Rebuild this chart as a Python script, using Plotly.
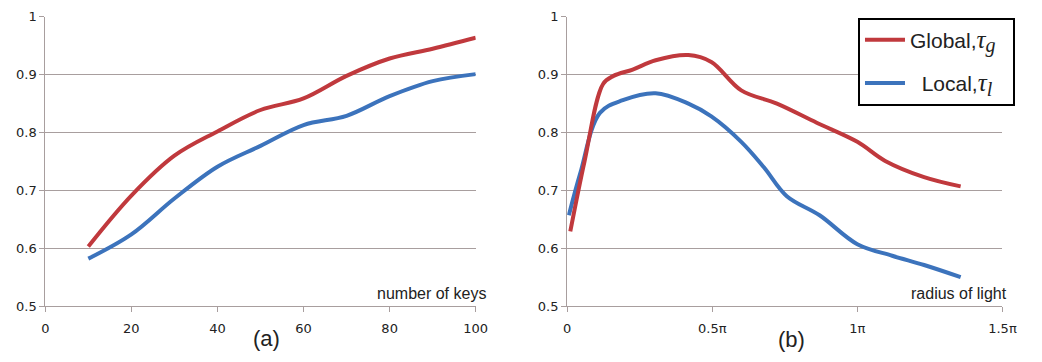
import plotly.graph_objects as go

# Panel (a): number of keys
keys = [10, 20, 30, 40, 50, 60, 70, 80, 90, 100]
keys_global = [0.603, 0.691, 0.760, 0.802, 0.839, 0.859, 0.898, 0.928, 0.945, 0.964]
keys_local = [0.582, 0.624, 0.686, 0.741, 0.777, 0.813, 0.829, 0.863, 0.889, 0.901]

# Panel (b): radius of light (in units of pi)
radius_g = [0.011, 0.06, 0.124, 0.16, 0.226, 0.305, 0.418, 0.497, 0.6, 0.723, 0.86, 1.0, 1.096, 1.23, 1.356]
light_global = [0.629, 0.75, 0.884, 0.898, 0.909, 0.925, 0.934, 0.922, 0.873, 0.850, 0.817, 0.784, 0.751, 0.723, 0.707]
radius_l = [0.006, 0.045, 0.113, 0.192, 0.305, 0.418, 0.497, 0.6, 0.678, 0.757, 0.87, 1.0, 1.12, 1.23, 1.356]
light_local = [0.657, 0.729, 0.834, 0.856, 0.868, 0.850, 0.828, 0.784, 0.740, 0.690, 0.657, 0.607, 0.587, 0.571, 0.550]

y_ticks = [0.5, 0.6, 0.7, 0.8, 0.9, 1.0]
y_ticklabels = ["0.5", "0.6", "0.7", "0.8", "0.9", "1"]
xa_ticks = [0, 20, 40, 60, 80, 100]
xb_ticks = [0, 0.5, 1.0, 1.5]
xb_ticklabels = ["0", "0.5π", "1π", "1.5π"]

RED = "#C0393D"
BLUE = "#3C73BC"
GRID = "#A89E9E"
W, H = 1042, 362

fig = go.Figure()

tau = "<span style=\"font-family:'Liberation Serif';font-size:25px\"><i>τ</i></span>"
sub = "<sub><span style=\"font-family:'Liberation Serif';font-size:20px\"><i>%s</i></span></sub>"
name_g = "Global," + tau + sub % "g" + "&nbsp;&nbsp;"
name_l = "&nbsp;&nbsp;Local," + tau + sub % "l" + "&nbsp;&nbsp;"

line_style = dict(width=4, shape="spline", smoothing=1)
fig.add_trace(go.Scatter(x=keys, y=keys_local, mode="lines", line=dict(line_style, color=BLUE),
                         xaxis="x", yaxis="y", showlegend=False))
fig.add_trace(go.Scatter(x=keys, y=keys_global, mode="lines", line=dict(line_style, color=RED),
                         xaxis="x", yaxis="y", showlegend=False))
fig.add_trace(go.Scatter(x=radius_l, y=light_local, mode="lines", line=dict(line_style, color=BLUE),
                         xaxis="x2", yaxis="y2", name=name_l, legendrank=2, legendgroup="l"))
fig.add_trace(go.Scatter(x=radius_g, y=light_global, mode="lines", line=dict(line_style, color=RED),
                         xaxis="x2", yaxis="y2", name=name_g, legendrank=1, legendgroup="g"))

ydom = [1 - 312 / H, 1 - 10 / H]
tickfont = dict(family="DejaVu Sans", size=13, color="#222222")
common_y = dict(range=[0.5, 1.0005], tickvals=y_ticks, ticktext=y_ticklabels, showgrid=True, gridcolor=GRID, gridwidth=1,
                showline=True, linecolor=GRID, linewidth=1, ticks="outside", ticklen=5, tickcolor=GRID,
                tickfont=tickfont, zeroline=False, domain=ydom, fixedrange=True)
common_x = dict(showgrid=False, showline=True, linecolor=GRID, linewidth=1, ticks="outside", ticklen=5, tickcolor=GRID,
                tickfont=tickfont, zeroline=False, ticklabelstandoff=5)

fig.update_layout(
    width=W, height=H,
    margin=dict(l=0, r=0, t=0, b=0),
    paper_bgcolor="white", plot_bgcolor="white",
    xaxis=dict(common_x, domain=[42 / W, 480 / W], range=[0, 100], tickvals=xa_ticks, anchor="y"),
    yaxis=dict(common_y, anchor="x"),
    xaxis2=dict(common_x, domain=[573 / W, 1016 / W], range=[0, 1.5], tickvals=xb_ticks, ticktext=xb_ticklabels, anchor="y2"),
    yaxis2=dict(common_y, anchor="x2"),
    legend=dict(x=869 / W, y=1 - 11 / H, xanchor="left", yanchor="top", bgcolor="white",
                bordercolor="black", borderwidth=2, font=dict(family="Liberation Sans", size=21, color="#222222"),
                itemwidth=40, tracegroupgap=13, traceorder="grouped"),
    showlegend=True,
    annotations=[
        dict(text="number of keys", x=493 / W, y=1 - 299 / H, xref="paper", yref="paper", xanchor="right", yanchor="middle",
             showarrow=False, font=dict(family="Liberation Sans", size=16, color="#222222")),
        dict(text="radius of light", x=1023 / W, y=1 - 299 / H, xref="paper", yref="paper", xanchor="right", yanchor="middle",
             showarrow=False, font=dict(family="Liberation Sans", size=16, color="#222222")),
        dict(text="(a)", x=267 / W, y=1 - 346 / H, xref="paper", yref="paper", xanchor="center", yanchor="middle",
             showarrow=False, font=dict(family="Liberation Sans", size=22, color="#222222")),
        dict(text="(b)", x=801 / W, y=1 - 347 / H, xref="paper", yref="paper", xanchor="center", yanchor="middle",
             showarrow=False, font=dict(family="Liberation Sans", size=22, color="#222222")),
    ],
)

fig.write_html("out.html")
